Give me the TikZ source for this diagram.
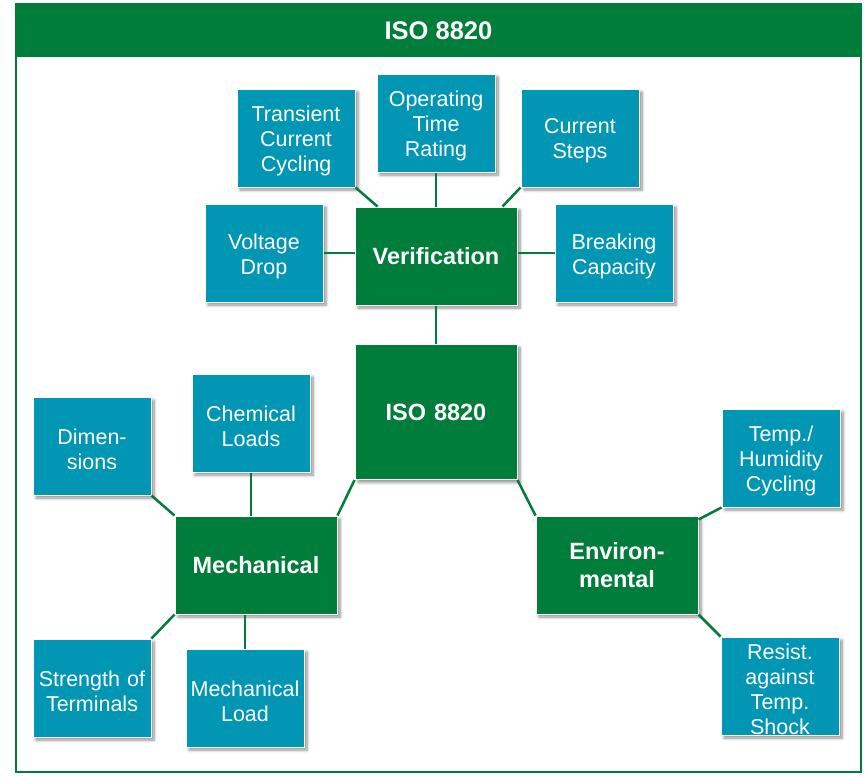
\documentclass[tikz,border=0pt]{standalone}
\usepackage{fontspec}
\setmainfont{Liberation Sans}
\usetikzlibrary{shadows.blur,calc}
\definecolor{isogreen}{RGB}{0,125,58}
\definecolor{isoblue}{RGB}{0,150,180}
\tikzset{
  shad/.style={blur shadow={shadow xshift=3pt,shadow yshift=-3pt,shadow blur steps=6,shadow opacity=45,shadow blur radius=3pt}},
  leaf/.style={shad,rectangle,fill=isoblue,draw=white,line width=1pt,minimum width=118pt,minimum height=98pt,inner sep=0pt},
  leaftxt/.style={inner sep=0pt,text=white,align=center,font=\fontsize{21.5}{25}\selectfont,text width=116pt},
  hub/.style={shad,rectangle,fill=isogreen,draw=white,line width=1pt,minimum width=162pt,minimum height=98pt,inner sep=0pt,text=white,align=center,font=\fontsize{23.5}{28}\selectfont\bfseries,text width=160pt},
  conn/.style={draw=isogreen,line width=2.5pt},
}
\newcommand\Leaf[3]{\node[leaf] (#1) at (#2) {};\node[leaftxt] (#1t) at ($(#1.center)+(0,3)$) {#3};}
\begin{document}
\begin{tikzpicture}[x=1pt,y=-1pt]
\useasboundingbox (0,0) rectangle (866,776);
% frame
\fill[isogreen] (15,3) rectangle (862,57);
\draw[isogreen,line width=2pt] (16,57) -- (16,772) -- (861,772) -- (861,57);
\node[text=white,font=\fontsize{25.5}{30}\selectfont\bfseries] (title) at (438.5,31) {ISO 8820};
\Leaf{trans}{296,138}{Transient\\Current\\Cycling}
\Leaf{op}{436,123}{Operating\\Time\\Rating}
\Leaf{cur}{580,138}{Current\\Steps}
\Leaf{vd}{264,253}{Voltage\\Drop}
\node[hub] (ver) at (436,256) {Verification};
\Leaf{brk}{614,253}{Breaking\\Capacity}
\node[hub,minimum height=135pt] (iso) at (436,412) {ISO 8820};
\Leaf{dim}{92,446}{Dimen-\\sions}
\Leaf{chem}{251,423}{Chemical\\Loads}
\node[hub] (mech) at (256,565) {Mechanical};
\node[hub] (env) at (617,565) {Environ-\\mental};
\Leaf{thum}{781,458}{Temp./\\Humidity\\Cycling}
\Leaf{str}{92,688}{Strength of\\Terminals}
\Leaf{mload}{245,698}{Mechanical\\Load}
\Leaf{rst}{780,686}{Resist.\\against\\Temp.\\Shock}
\draw[conn] (trans.south east) -- ($(ver.north west)+(23,0)$);
\draw[conn] (cur.south west) -- ($(ver.north east)+(-15,0)$);
\draw[conn] (op.south) -- (ver.north);
\draw[conn] (vd.east) -- (vd.east -| ver.west);
\draw[conn] (brk.west) -- (brk.west -| ver.east);
\draw[conn] (ver.south) -- (iso.north);
\draw[conn] (iso.south west) -- (mech.north east);
\draw[conn] (iso.south east) -- (env.north west);
\draw[conn] (dim.south east) -- (mech.north west);
\draw[conn] (chem.south) -- (chem.south |- mech.north);
\draw[conn] (str.north east) -- (mech.south west);
\draw[conn] (mload.north) -- (mload.north |- mech.south);
\draw[conn] ($(env.north east)+(0,4)$) -- (thum.south west);
\draw[conn] (env.south east) -- (rst.north west);
\end{tikzpicture}
\end{document}
